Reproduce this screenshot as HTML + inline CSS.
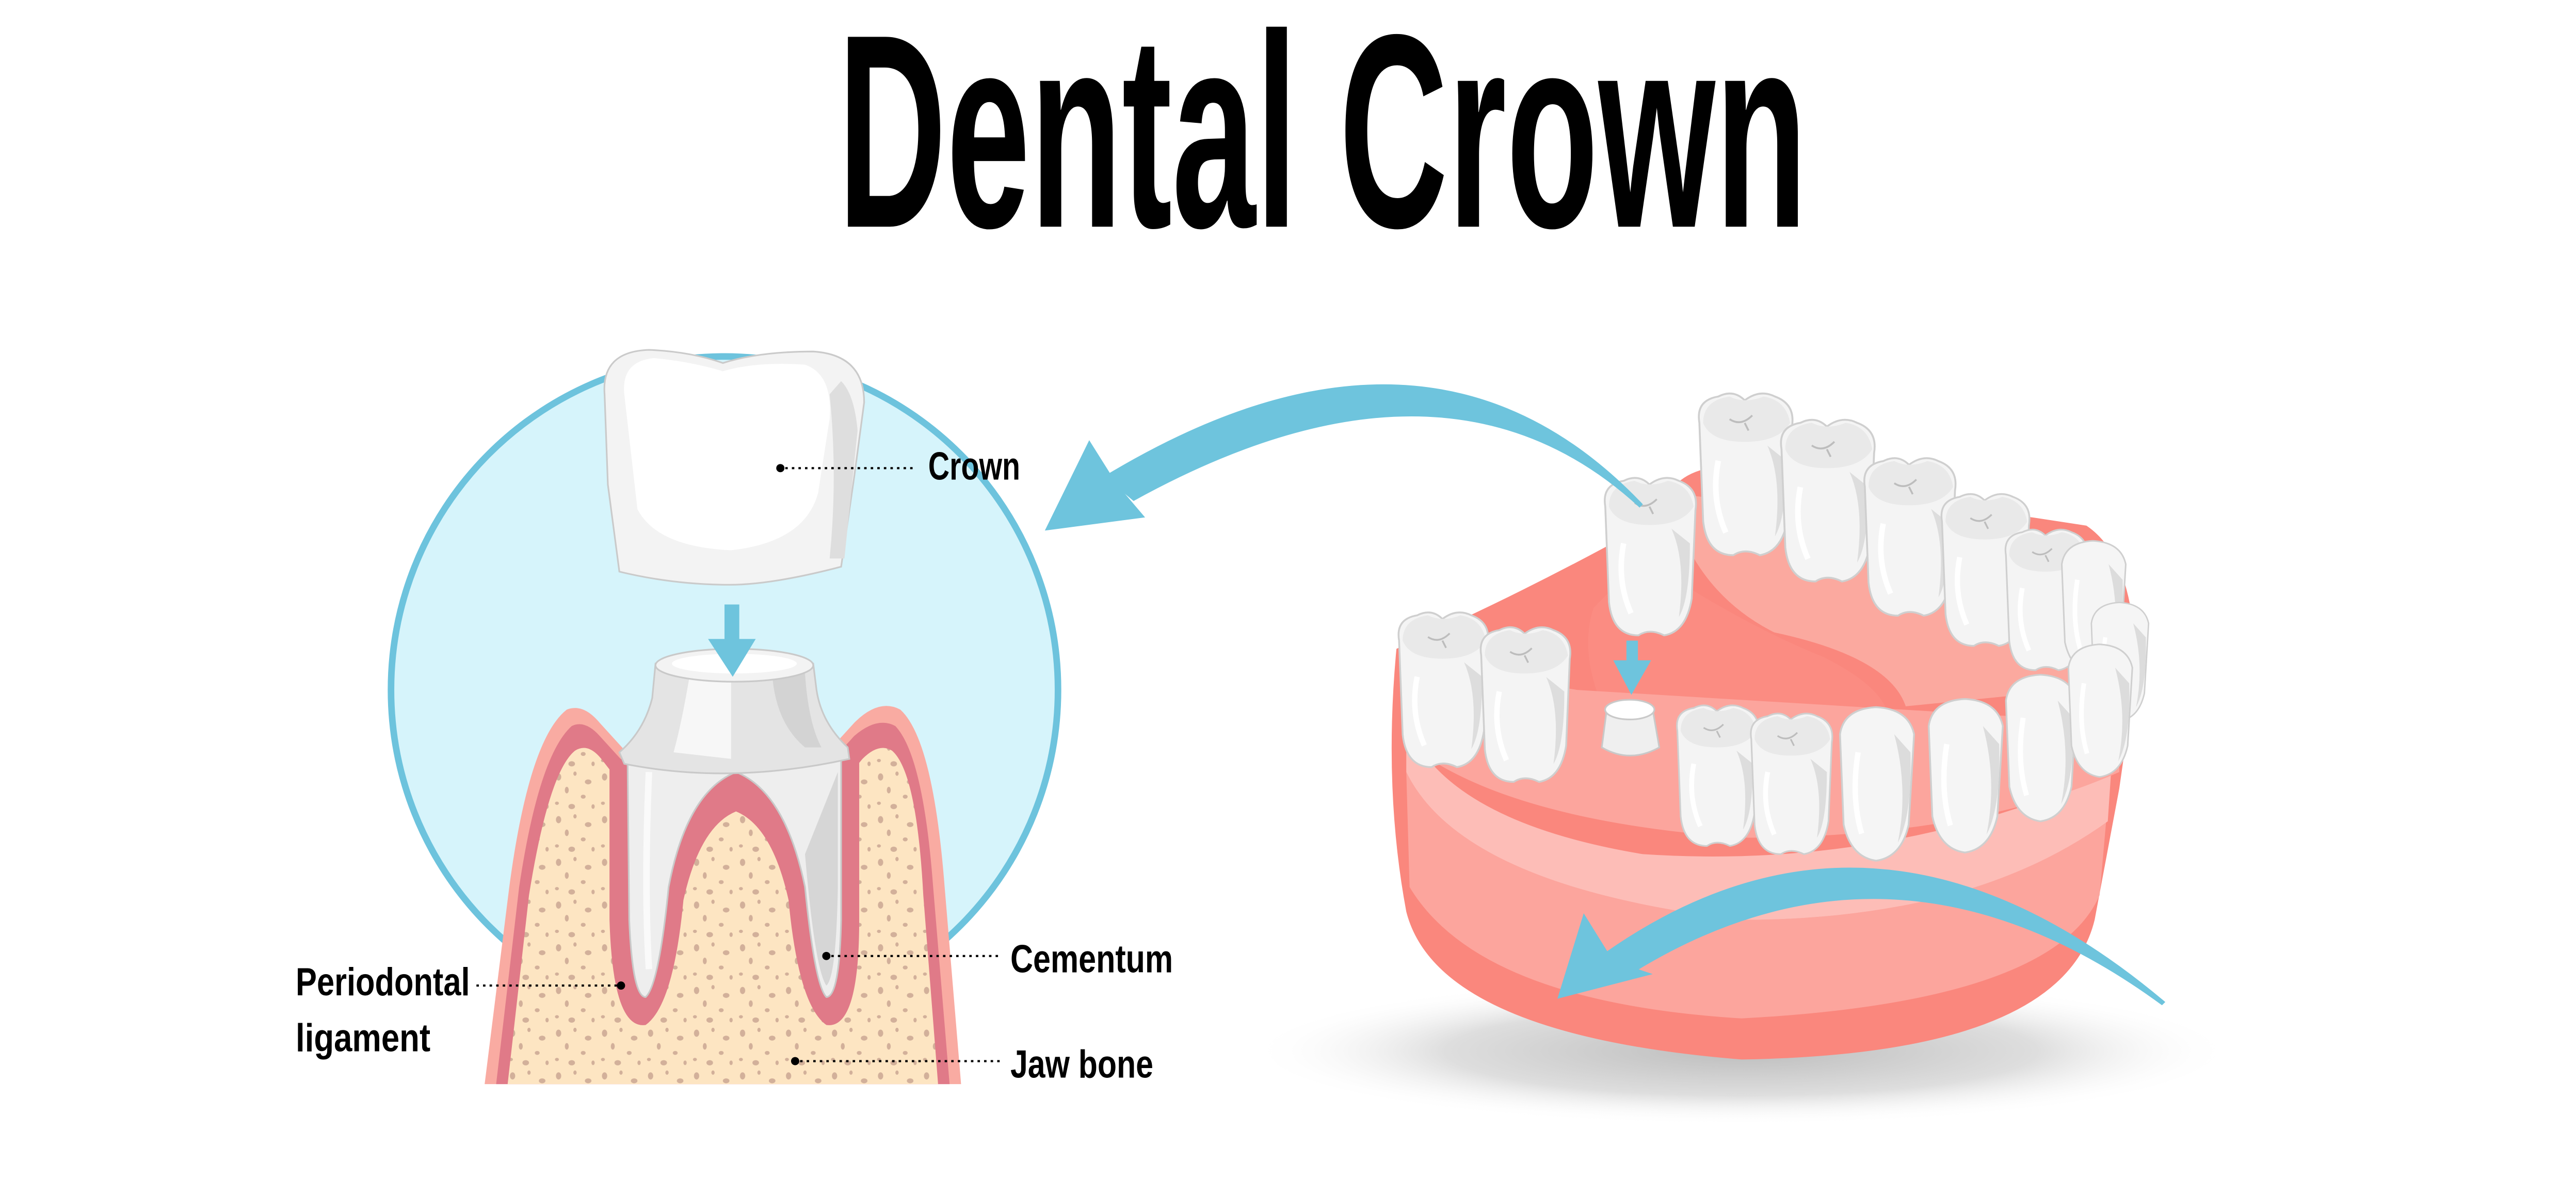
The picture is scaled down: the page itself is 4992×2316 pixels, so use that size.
<!DOCTYPE html>
<html><head><meta charset="utf-8">
<style>
html,body{margin:0;padding:0;background:#fff;}
svg{display:block;}
</style></head>
<body>
<svg width="4992" height="2316" viewBox="0 0 1568 727.5" preserveAspectRatio="none" xmlns="http://www.w3.org/2000/svg">
<defs>
  <pattern id="bone" width="28" height="26" patternUnits="userSpaceOnUse">
    <rect width="28" height="26" fill="#fde5c2"/>
    <ellipse cx="4" cy="5" rx="1.6" ry="2.2" fill="#d2b09a"/>
    <ellipse cx="14" cy="3" rx="1" ry="1.3" fill="#d2b09a"/>
    <ellipse cx="22" cy="8" rx="2" ry="1.5" fill="#d2b09a"/>
    <ellipse cx="9" cy="13" rx="1.2" ry="2" fill="#d2b09a"/>
    <ellipse cx="19" cy="17" rx="1.5" ry="1.2" fill="#d2b09a"/>
    <ellipse cx="3" cy="21" rx="1.2" ry="1" fill="#d2b09a"/>
    <ellipse cx="12" cy="23" rx="2" ry="1.6" fill="#d2b09a"/>
    <ellipse cx="25" cy="23" rx="1" ry="1.4" fill="#d2b09a"/>
  </pattern>
  <radialGradient id="shadow" cx="0.5" cy="0.5" r="0.5">
    <stop offset="0" stop-color="#bdbdbd"/>
    <stop offset="0.6" stop-color="#dedede"/>
    <stop offset="1" stop-color="#fff" stop-opacity="0"/>
  </radialGradient>
  <g id="tooth">
    <path d="M-24,-30 Q-26,-42 -14,-44 Q-6,-48 0,-42 Q8,-48 16,-44 Q27,-40 25,-28 L23,20 Q20,38 8,40 Q0,36 -6,40 Q-20,40 -22,22 Z" fill="#f4f4f4" stroke="#cfcfcf" stroke-width="1"/>
    <path d="M-22,-30 Q-18,-20 0,-20 Q18,-20 24,-30 Q22,-42 10,-44 Q0,-40 -8,-44 Q-22,-42 -22,-30Z" fill="#e9e9e9"/>
    <path d="M-8,-32 Q-2,-28 4,-34 M0,-30 L2,-26" stroke="#bdbdbd" stroke-width="1" fill="none"/>
    <path d="M12,-18 Q20,0 16,30 Q22,20 22,-10Z" fill="#dddddd"/>
    <path d="M-14,-10 Q-18,10 -10,28" stroke="#fff" stroke-width="3" fill="none"/>
  </g>
  <g id="incisor">
    <path d="M-20,-30 Q-18,-44 0,-45 Q18,-44 21,-30 L18,20 Q14,38 0,40 Q-14,38 -18,20 Z" fill="#f5f5f5" stroke="#cfcfcf" stroke-width="1"/>
    <path d="M10,-30 Q18,0 12,30 Q20,15 19,-20Z" fill="#dcdcdc"/>
    <path d="M-10,-20 Q-14,5 -8,25" stroke="#fff" stroke-width="3" fill="none"/>
  </g>
</defs>

<!-- Title -->
<text x="510" y="138" font-family="Liberation Sans Narrow, Liberation Sans, sans-serif" font-weight="bold" font-size="168" textLength="590" lengthAdjust="spacingAndGlyphs" fill="#000">Dental Crown</text>

<!-- LEFT: circle -->
<circle cx="441" cy="420" r="203" fill="#d6f4fb" stroke="#6dc3dd" stroke-width="4"/>

<!-- gum / bone -->
<path d="M295,660 L310,540 Q322,450 345,432 Q355,428 365,440 L385,462 L500,462 L520,440 Q535,425 548,432 Q568,450 575,540 L585,660 Z" fill="#f9aba2"/>
<path d="M302,660 L316,540 Q328,460 348,442 Q356,438 365,448 L385,470 L500,470 L520,448 Q534,436 545,442 Q562,460 568,540 L578,660 Z" fill="#e07a88"/>
<path d="M309,660 L322,545 Q334,470 350,457 Q358,452 366,462 L380,480 L510,480 L525,462 Q535,452 543,457 Q558,470 562,545 L571,660 Z" fill="url(#bone)"/>

<!-- root lining -->
<path d="M371,462 L371,560 Q373,627 393,624 Q410,612 416,548 Q426,503 448,494 Q470,503 480,548 Q486,612 503,624 Q523,627 523,560 L523,462 Z" fill="#e07a88"/>
<!-- roots -->
<path d="M382,462 L383,560 Q385,607 393,607 Q401,600 407,540 Q418,482 448,470 Q478,482 490,540 Q496,600 503,607 Q511,607 512,560 L512,462 Z" fill="#eeeeee" stroke="#c9c9c9" stroke-width="1"/>
<path d="M490,520 Q496,590 503,600 Q509,595 510,540 L510,470 Z" fill="#d6d6d6"/>
<path d="M395,470 Q392,540 395,590" stroke="#fafafa" stroke-width="4" fill="none"/>
<!-- abutment top -->
<path d="M399,404 L397,425 Q392,445 377,458 L380,465 Q445,478 517,462 L516,455 Q500,440 497,420 L495,404 Z" fill="#e4e4e4" stroke="#c9c9c9" stroke-width="1"/>
<path d="M420,410 Q415,440 410,458 L445,462 L445,410Z" fill="#f7f7f7"/>
<path d="M470,410 Q472,440 490,455 L500,455 Q492,440 490,410Z" fill="#d3d3d3"/>
<ellipse cx="447" cy="405" rx="48" ry="10" fill="#f3f3f3" stroke="#c9c9c9" stroke-width="1"/>
<ellipse cx="447" cy="404" rx="38" ry="6" fill="#fff"/>

<!-- small arrow -->
<rect x="441" y="368" width="9" height="25" fill="#6ec4dd"/>
<path d="M431,389 L460,389 L446,412 Z" fill="#6ec4dd"/>

<!-- Crown -->
<path d="M368,240 Q366,214 395,213 Q420,214 440,221 Q462,214 495,214 Q526,216 526,245 L520,290 L512,345 Q470,356 444,356 Q410,356 377,348 L370,295 Z" fill="#f3f3f3" stroke="#cacaca" stroke-width="1"/>
<path d="M380,240 Q378,220 398,218 Q420,220 440,226 Q460,220 490,222 Q507,228 505,255 L498,300 Q490,330 445,335 Q400,333 388,310 Z" fill="#ffffff"/>
<path d="M505,240 Q510,290 505,340 L514,340 L522,262 Q520,240 512,232Z" fill="#dedede"/>

<!-- labels left -->
<g font-family="Liberation Sans Narrow, Liberation Sans, sans-serif" font-weight="bold" fill="#000">
<circle cx="475" cy="285" r="2.5"/>
<line x1="478" y1="285" x2="558" y2="285" stroke="#000" stroke-width="1.3" stroke-dasharray="1.5,2.5"/>
<text x="565" y="292" font-size="24" textLength="56" lengthAdjust="spacingAndGlyphs">Crown</text>
<circle cx="503" cy="582" r="2.5"/>
<line x1="506" y1="582" x2="608" y2="582" stroke="#000" stroke-width="1.3" stroke-dasharray="1.5,2.5"/>
<text x="615" y="592" font-size="24" textLength="99" lengthAdjust="spacingAndGlyphs">Cementum</text>
<circle cx="484" cy="646" r="2.5"/>
<line x1="487" y1="646" x2="610" y2="646" stroke="#000" stroke-width="1.3" stroke-dasharray="1.5,2.5"/>
<text x="615" y="656" font-size="24" textLength="87" lengthAdjust="spacingAndGlyphs">Jaw bone</text>
<circle cx="378" cy="600" r="2.5"/>
<line x1="290" y1="600" x2="376" y2="600" stroke="#000" stroke-width="1.3" stroke-dasharray="1.5,2.5"/>
<text x="180" y="606" font-size="24" textLength="106" lengthAdjust="spacingAndGlyphs">Periodontal</text>
<text x="180" y="640" font-size="24" textLength="82" lengthAdjust="spacingAndGlyphs">ligament</text>
</g>

<!-- RIGHT: jaw -->
<ellipse cx="1060" cy="640" rx="300" ry="45" fill="url(#shadow)"/>
<path d="M850,395 Q842,480 856,555 Q875,630 1060,645 Q1255,642 1275,560 L1290,480 L1300,410 Q1300,340 1270,320 L1040,285 Q1015,290 1010,315 Q930,360 850,395Z" fill="#fa877d"/>
<path d="M856,470 Q890,540 1060,560 Q1200,560 1282,500 L1278,545 Q1250,610 1060,620 Q900,610 858,540Z" fill="#fca59d"/>
<path d="M856,440 Q880,500 1000,520 Q1150,530 1285,470 L1283,500 Q1200,560 1060,560 Q890,540 856,470Z" fill="#fdbdb7"/>
<path d="M1015,300 Q1030,360 1080,385 Q1150,400 1160,430 L1260,420 Q1290,390 1270,330 Z" fill="#fba99f"/>
<path d="M1000,340 Q1060,380 1110,400 Q1150,420 1150,440 L980,440 Q960,400 970,370Z" fill="#fb8c82"/>
<path d="M860,420 Q900,410 960,420 L1290,440 L1290,470 Q1200,510 1060,510 Q920,500 860,455Z" fill="#fca59d"/>

<!-- upper back teeth -->
<use href="#tooth" transform="translate(1062,292) scale(1.15)"/>
<use href="#tooth" transform="translate(1112,308) scale(1.15)"/>
<use href="#tooth" transform="translate(1162,330) scale(1.12)"/>
<use href="#tooth" transform="translate(1208,350) scale(1.08)"/>
<use href="#tooth" transform="translate(1245,368) scale(1.0)"/>
<use href="#incisor" transform="translate(1274,372) scale(0.95)"/>
<use href="#incisor" transform="translate(1290,405) scale(0.85)"/>

<!-- front row teeth -->
<use href="#tooth" transform="translate(878,423) scale(1.1)"/>
<use href="#tooth" transform="translate(928,432) scale(1.1)"/>
<use href="#tooth" transform="translate(1045,475) scale(1.0)"/>
<use href="#tooth" transform="translate(1090,480) scale(1.0)"/>
<use href="#incisor" transform="translate(1142,480) scale(1.1)"/>
<use href="#incisor" transform="translate(1196,475) scale(1.1)"/>
<use href="#incisor" transform="translate(1242,458) scale(1.05)"/>
<use href="#incisor" transform="translate(1278,435) scale(0.95)"/>

<!-- abutment on jaw -->
<path d="M978,432 L975,455 Q992,465 1010,455 L1006,432 Z" fill="#efefef" stroke="#c9c9c9" stroke-width="1"/>
<ellipse cx="992" cy="432" rx="15" ry="6" fill="#fff" stroke="#c9c9c9" stroke-width="1"/>
<!-- floating crown -->
<use href="#tooth" transform="translate(1004,342) scale(1.12)"/>
<rect x="990" y="390" width="7" height="16" fill="#6ec4dd"/>
<path d="M982,402 L1005,402 L993,423Z" fill="#6ec4dd"/>

<!-- big arrows -->
<path d="M1000,307 Q870,170 672,290 L690,305 Q880,200 998,309Z" fill="#6ec4dd"/>
<path d="M636,323 L663,268 L680,295 L697,315 Z" fill="#6ec4dd"/>
<path d="M1318,610 Q1140,460 970,585 L985,598 Q1150,490 1316,612Z" fill="#6ec4dd"/>
<path d="M948,608 L964,556 L982,585 L1006,593 Z" fill="#6ec4dd"/>
</svg>
</body></html>
